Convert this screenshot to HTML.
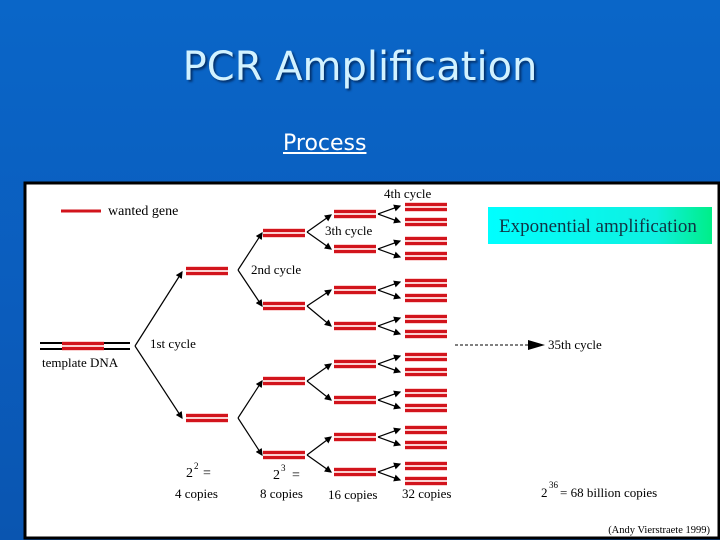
<!DOCTYPE html>
<html><head><meta charset="utf-8"><style>
body{margin:0;width:720px;height:540px;overflow:hidden;background:linear-gradient(#0a66c8,#0b5cbc 60%,#0a55b0);font-family:"Liberation Sans",sans-serif;position:relative}
.t{position:absolute;left:0;width:720px;text-align:center;top:44px;font-size:40px;color:#d2f2ff;text-shadow:2px 2px 2px #03306a;font-family:"DejaVu Sans","Liberation Sans",sans-serif}
.p{position:absolute;left:283px;top:131px;font-size:22px;color:#fff;text-decoration:underline;font-family:"DejaVu Sans","Liberation Sans",sans-serif}
svg{position:absolute;left:0;top:0}
</style></head><body>
<div class="t">PCR Amplification</div>
<div class="p">Process</div>
<svg width="720" height="540" font-family="Liberation Serif, serif" font-size="13">
<defs><marker id="a" markerWidth="6" markerHeight="6" refX="5" refY="3" orient="auto"><path d="M0,0L6,3L0,6z" fill="#000"/></marker>
<linearGradient id="g" x1="0" x2="1"><stop offset="0" stop-color="#0ff"/><stop offset=".75" stop-color="#0ef0e0"/><stop offset="1" stop-color="#0e8"/></linearGradient>
<g id="pr"><rect x="0" y="-5" width="42" height="10" fill="#fbd0d0"/><rect x="0" y="-4" width="42" height="3" fill="#d2141c"/><rect x="0" y="1" width="42" height="3" fill="#d2141c"/></g></defs>
<rect x="25" y="183" width="694" height="355" fill="#fff" stroke="#000" stroke-width="3"/>
<line x1="61" y1="211" x2="101" y2="211" stroke="#d2141c" stroke-width="3"/>
<text x="108" y="215" font-size="14">wanted gene</text>
<line x1="40" y1="343" x2="130" y2="343" stroke="#000" stroke-width="2"/>
<line x1="40" y1="349" x2="130" y2="349" stroke="#000" stroke-width="2"/>
<use href="#pr" x="62" y="346"/>
<text x="42" y="367">template DNA</text>
<text x="150" y="348">1st cycle</text>
<g stroke="#000" stroke-width="1.2" fill="none" marker-end="url(#a)">
<path d="M135,346L182,272"/><path d="M135,346L182,418"/>
<path d="M238,270L262,233"/><path d="M238,270L262,306"/>
<path d="M238,418L262,381"/><path d="M238,418L262,455"/>
<path d="M307,232L331,215"/><path d="M307,232L331,249"/>
<path d="M307,306L331,290"/><path d="M307,306L331,326"/>
<path d="M307,381L331,364"/><path d="M307,381L331,400"/>
<path d="M307,455L331,437"/><path d="M307,455L331,472"/>
</g>
<g id="gen4"></g>
<g fill="none" stroke="#000" stroke-width="1.2" marker-end="url(#a)">
<path d="M378,214L400,206"/><path d="M378,214L400,222"/>
<path d="M378,249L400,241"/><path d="M378,249L400,257"/>
<path d="M378,290L400,282"/><path d="M378,290L400,298"/>
<path d="M378,326L400,318"/><path d="M378,326L400,334"/>
<path d="M378,364L400,356"/><path d="M378,364L400,372"/>
<path d="M378,400L400,392"/><path d="M378,400L400,408"/>
<path d="M378,437L400,429"/><path d="M378,437L400,445"/>
<path d="M378,472L400,464"/><path d="M378,472L400,480"/>
</g>
<use href="#pr" x="186" y="271"/><use href="#pr" x="186" y="418"/>
<use href="#pr" x="263" y="233"/><use href="#pr" x="263" y="306"/><use href="#pr" x="263" y="381"/><use href="#pr" x="263" y="455"/>
<use href="#pr" x="334" y="214"/><use href="#pr" x="334" y="249"/><use href="#pr" x="334" y="290"/><use href="#pr" x="334" y="326"/>
<use href="#pr" x="334" y="364"/><use href="#pr" x="334" y="400"/><use href="#pr" x="334" y="437"/><use href="#pr" x="334" y="472"/>
<use href="#pr" x="405" y="207"/><use href="#pr" x="405" y="222"/><use href="#pr" x="405" y="241"/><use href="#pr" x="405" y="256"/>
<use href="#pr" x="405" y="283"/><use href="#pr" x="405" y="298"/><use href="#pr" x="405" y="319"/><use href="#pr" x="405" y="334"/>
<use href="#pr" x="405" y="357"/><use href="#pr" x="405" y="372"/><use href="#pr" x="405" y="393"/><use href="#pr" x="405" y="408"/>
<use href="#pr" x="405" y="430"/><use href="#pr" x="405" y="445"/><use href="#pr" x="405" y="466"/><use href="#pr" x="405" y="481"/>
<text x="251" y="274">2nd cycle</text>
<text x="325" y="235">3th cycle</text>
<text x="384" y="198">4th cycle</text>
<line x1="455" y1="345" x2="530" y2="345" stroke="#000" stroke-dasharray="3,2"/>
<path d="M528,340L545,345L528,350z" fill="#000"/>
<text x="548" y="349">35th cycle</text>
<rect x="488" y="207" width="224" height="37" fill="url(#g)"/>
<text x="499" y="232" font-size="19" fill="#134">Exponential amplification</text>
<text x="186" y="477" font-size="14">2</text><text x="194" y="469" font-size="9">2</text><text x="203" y="477" font-size="14">=</text>
<text x="175" y="498">4 copies</text>
<text x="273" y="479" font-size="14">2</text><text x="281" y="471" font-size="9">3</text><text x="292" y="479" font-size="14">=</text>
<text x="260" y="498">8 copies</text>
<text x="328" y="499">16 copies</text>
<text x="402" y="498">32 copies</text>
<text x="541" y="497">2</text><text x="549" y="488" font-size="9">36</text><text x="560" y="497">= 68 billion copies</text>
<text x="710" y="533" font-size="10.5" text-anchor="end">(Andy Vierstraete 1999)</text>
</svg>
</body></html>
